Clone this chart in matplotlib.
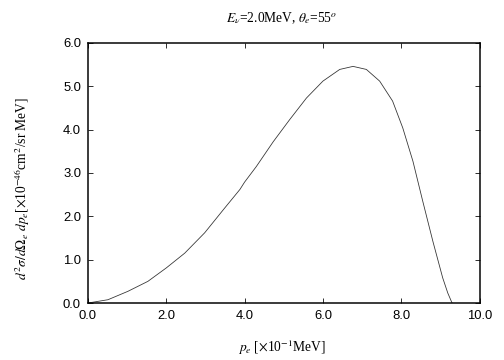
#!/usr/bin/env python
"""Electron momentum spectrum d2sigma/dOmega dp at E_nu = 2.0 MeV, theta_e = 55 deg."""

import matplotlib
matplotlib.use("Agg")
import matplotlib.pyplot as plt
from matplotlib.ticker import MultipleLocator, FormatStrFormatter

# electron momentum [x10^-1 MeV]
p_e = [0.0, 0.51, 1.02, 1.53, 2.0, 2.47, 2.98, 3.49, 3.88, 4.0, 4.30,
       4.73, 5.15, 5.58, 6.0, 6.43, 6.77, 7.11, 7.45, 7.78, 8.04, 8.30,
       8.55, 8.81, 9.06, 9.19, 9.28, 9.30]
# cross section [x10^-46 cm^2/sr MeV]
xsec = [0.0, 0.076, 0.27, 0.50, 0.81, 1.15, 1.62, 2.19, 2.62, 2.79, 3.15,
        3.72, 4.23, 4.73, 5.12, 5.39, 5.46, 5.39, 5.12, 4.66, 4.04, 3.27,
        2.35, 1.42, 0.58, 0.23, 0.04, 0.0]

plt.rcParams["mathtext.fontset"] = "stix"
serif = "Liberation Serif"
sans = "Liberation Sans"

fig = plt.figure(figsize=(7, 5), dpi=72)
ax = fig.add_axes([0.1746, 0.1583, 0.7768, 0.7223])

ax.plot(p_e, xsec, color="#333333", lw=0.8)

ax.set_xlim(0.0, 10.0)
ax.set_ylim(0.0, 6.0)
ax.xaxis.set_major_locator(MultipleLocator(2.0))
ax.yaxis.set_major_locator(MultipleLocator(1.0))
ax.xaxis.set_major_formatter(FormatStrFormatter("%.1f"))
ax.yaxis.set_major_formatter(FormatStrFormatter("%.1f"))
ax.tick_params(direction="in", length=5, width=0.8, top=True, right=True,
               labelsize=13, pad=7)
for lab in ax.get_xticklabels() + ax.get_yticklabels():
    lab.set_family(sans)
for s in ax.spines.values():
    s.set_linewidth(1.5)

fig.text(282 / 504, 1 - 18 / 360,
         r"$E_\nu$=2.0MeV, $\theta_e$=55$^o$",
         ha="center", va="center", fontsize=13.5, family=serif)
fig.text(282 / 504, 1 - 347 / 360,
         r"$p_e$ [$\times$10$^{-1}$MeV]",
         ha="center", va="center", fontsize=13.5, family=serif)
fig.text(22 / 504, 1 - 188 / 360,
         r"$d^2\sigma/d\Omega_e\ dp_e$[$\times$10$^{-46}$cm$^2$/sr MeV]",
         ha="center", va="center", rotation=90, fontsize=13.5, family=serif)

fig.savefig("out.png", dpi=72)
